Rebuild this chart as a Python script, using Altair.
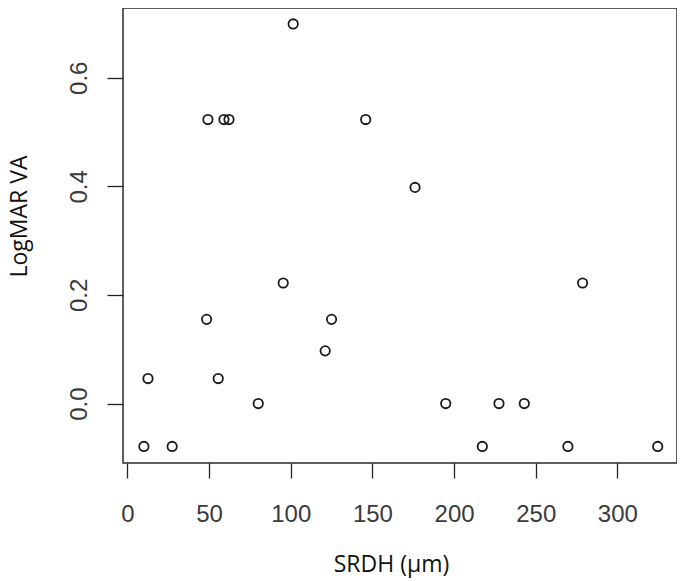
import altair as alt
import pandas as pd

srdh = [10.1, 27.4, 12.6, 101.5, 49.3, 59.1, 62.2, 145.9, 95.4, 278.7, 48.5,
        125.0, 121.1, 55.6, 80.1, 194.9, 227.5, 243.0, 217.3, 269.7, 324.7, 176.1]
logmar = [-0.079, -0.079, 0.046, 0.699, 0.523, 0.523, 0.523, 0.523, 0.222, 0.222, 0.155,
          0.155, 0.097, 0.046, 0.0, 0.0, 0.0, 0.0, -0.079, -0.079, -0.079, 0.398]
x_ticks = [0, 50, 100, 150, 200, 250, 300]
y_ticks = [0.0, 0.2, 0.4, 0.6]

df = pd.DataFrame({"SRDH": srdh, "LogMAR": logmar})

chart = alt.Chart(df).mark_point(
    shape="circle", filled=False, size=88, strokeWidth=1.8, color="#1a1a1a", opacity=1
).encode(
    x=alt.X("SRDH:Q",
            scale=alt.Scale(domain=[-2.7, 336.5], nice=False, zero=False),
            axis=alt.Axis(values=x_ticks, title="SRDH (µm)", domain=False, grid=False,
                          tickSize=15, tickWidth=1.3, tickColor="#222222",
                          labelFont="Liberation Sans", labelFontSize=24, labelColor="#3a3a3a",
                          labelPadding=24, labelFlush=False, labelOverlap=False,
                          titleFont="Open Sans", titleFontSize=23, titleFontWeight="normal",
                          titleColor="#111111", titleX=268, titleY=101,
                          titleAlign="center", titleBaseline="middle")),
    y=alt.Y("LogMAR:Q",
            scale=alt.Scale(domain=[-0.1095, 0.7284], nice=False, zero=False),
            axis=alt.Axis(values=y_ticks, format=".1f", title="LogMAR VA", domain=False, grid=False,
                          tickSize=16, tickWidth=1.3, tickColor="#222222",
                          labelFont="Liberation Sans", labelFontSize=24, labelColor="#3a3a3a",
                          labelAngle=270, labelAlign="center", labelBaseline="bottom",
                          labelPadding=16, labelFlush=False, labelOverlap=False,
                          titleFont="Open Sans", titleFontSize=23, titleFontWeight="normal",
                          titleColor="#111111", titleX=-104, titleY=208, titleAngle=270,
                          titleAlign="center", titleBaseline="middle")),
).properties(
    width=554, height=455,
    autosize=alt.AutoSizeParams(type="none"),
    padding={"left": 115, "top": 0, "right": 0, "bottom": 118},
).configure(
    background="white",
    view=alt.ViewConfig(stroke="#2a2a2a", strokeWidth=1.5, fill="white"),
)

chart.save("out.html", embed_options={"renderer": "svg", "actions": False})
